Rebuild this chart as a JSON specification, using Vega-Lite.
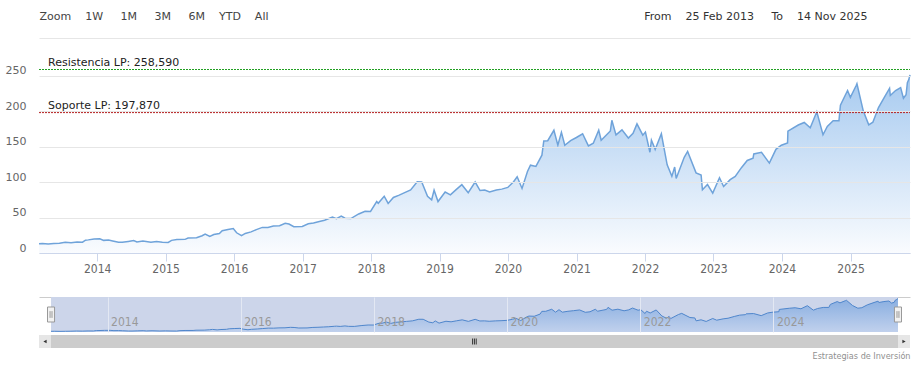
{
  "$schema": "https://vega.github.io/schema/vega-lite/v6.json",
  "background": "white",
  "padding": {"left": 5, "right": 8, "top": 10, "bottom": 2},
  "config": {
    "view": {"stroke": null},
    "font": "DejaVu Sans"
  },
  "datasets": {
    "valores": [
      {"fecha": "2013-02-25", "valor": 13.0}, {"fecha": "2013-03-15", "valor": 13.4}, {"fecha": "2013-04-15", "valor": 12.6},
      {"fecha": "2013-05-15", "valor": 13.3}, {"fecha": "2013-06-14", "valor": 13.8}, {"fecha": "2013-07-15", "valor": 15.2},
      {"fecha": "2013-08-15", "valor": 14.4}, {"fecha": "2013-09-16", "valor": 15.6}, {"fecha": "2013-10-15", "valor": 15.3},
      {"fecha": "2013-10-31", "valor": 18.1}, {"fecha": "2013-11-15", "valor": 18.5}, {"fecha": "2013-12-16", "valor": 19.8},
      {"fecha": "2014-01-15", "valor": 20.0}, {"fecha": "2014-02-05", "valor": 17.8}, {"fecha": "2014-03-03", "valor": 18.3},
      {"fecha": "2014-03-25", "valor": 17.0}, {"fecha": "2014-04-25", "valor": 15.1}, {"fecha": "2014-05-15", "valor": 15.0},
      {"fecha": "2014-06-16", "valor": 16.3}, {"fecha": "2014-07-15", "valor": 17.6}, {"fecha": "2014-08-01", "valor": 15.6},
      {"fecha": "2014-09-02", "valor": 17.0}, {"fecha": "2014-10-15", "valor": 15.2}, {"fecha": "2014-11-14", "valor": 16.2},
      {"fecha": "2014-12-15", "valor": 15.3}, {"fecha": "2015-01-15", "valor": 14.9}, {"fecha": "2015-02-02", "valor": 17.8},
      {"fecha": "2015-03-02", "valor": 19.0}, {"fecha": "2015-04-15", "valor": 19.2}, {"fecha": "2015-05-01", "valor": 21.0},
      {"fecha": "2015-06-15", "valor": 21.6}, {"fecha": "2015-07-15", "valor": 24.3}, {"fecha": "2015-07-31", "valor": 26.8},
      {"fecha": "2015-08-25", "valor": 23.4}, {"fecha": "2015-09-15", "valor": 26.0}, {"fecha": "2015-10-15", "valor": 27.5},
      {"fecha": "2015-10-30", "valor": 31.3}, {"fecha": "2015-11-30", "valor": 33.2}, {"fecha": "2015-12-28", "valor": 34.5},
      {"fecha": "2016-01-15", "valor": 28.5}, {"fecha": "2016-02-10", "valor": 24.4}, {"fecha": "2016-03-01", "valor": 27.6},
      {"fecha": "2016-04-01", "valor": 29.8}, {"fecha": "2016-04-29", "valor": 32.9}, {"fecha": "2016-05-31", "valor": 36.1},
      {"fecha": "2016-06-30", "valor": 35.8}, {"fecha": "2016-07-29", "valor": 37.9}, {"fecha": "2016-08-31", "valor": 38.4},
      {"fecha": "2016-09-30", "valor": 41.9}, {"fecha": "2016-10-20", "valor": 40.8}, {"fecha": "2016-11-15", "valor": 37.0},
      {"fecha": "2016-12-30", "valor": 37.5}, {"fecha": "2017-01-31", "valor": 41.2}, {"fecha": "2017-02-28", "valor": 42.3},
      {"fecha": "2017-03-31", "valor": 44.3}, {"fecha": "2017-04-28", "valor": 46.2}, {"fecha": "2017-05-31", "valor": 49.7},
      {"fecha": "2017-06-09", "valor": 50.5}, {"fecha": "2017-06-30", "valor": 48.4}, {"fecha": "2017-07-26", "valor": 52.1},
      {"fecha": "2017-08-15", "valor": 49.0}, {"fecha": "2017-09-15", "valor": 48.5}, {"fecha": "2017-10-27", "valor": 55.0},
      {"fecha": "2017-11-30", "valor": 58.8}, {"fecha": "2017-12-29", "valor": 58.5}, {"fecha": "2018-01-31", "valor": 72.5},
      {"fecha": "2018-02-08", "valor": 70.0}, {"fecha": "2018-03-12", "valor": 80.0}, {"fecha": "2018-04-02", "valor": 69.8},
      {"fecha": "2018-04-30", "valor": 78.3}, {"fecha": "2018-05-31", "valor": 81.5}, {"fecha": "2018-06-29", "valor": 85.0},
      {"fecha": "2018-07-31", "valor": 88.9}, {"fecha": "2018-09-04", "valor": 100.5}, {"fecha": "2018-09-28", "valor": 100.2},
      {"fecha": "2018-10-29", "valor": 79.9}, {"fecha": "2018-11-20", "valor": 75.0}, {"fecha": "2018-12-03", "valor": 88.6},
      {"fecha": "2018-12-24", "valor": 72.5}, {"fecha": "2019-01-31", "valor": 86.0}, {"fecha": "2019-02-28", "valor": 82.0},
      {"fecha": "2019-03-29", "valor": 89.0}, {"fecha": "2019-04-30", "valor": 96.3}, {"fecha": "2019-06-03", "valor": 85.0},
      {"fecha": "2019-07-10", "valor": 100.0}, {"fecha": "2019-08-05", "valor": 88.0}, {"fecha": "2019-08-30", "valor": 88.8},
      {"fecha": "2019-09-25", "valor": 86.0}, {"fecha": "2019-10-31", "valor": 88.8}, {"fecha": "2019-11-29", "valor": 90.0},
      {"fecha": "2019-12-31", "valor": 92.4}, {"fecha": "2020-01-31", "valor": 100.4}, {"fecha": "2020-02-19", "valor": 107.5},
      {"fecha": "2020-03-16", "valor": 91.0}, {"fecha": "2020-04-14", "valor": 114.8}, {"fecha": "2020-04-30", "valor": 123.7},
      {"fecha": "2020-05-29", "valor": 122.1}, {"fecha": "2020-06-30", "valor": 137.9}, {"fecha": "2020-07-10", "valor": 158.0},
      {"fecha": "2020-07-31", "valor": 158.2}, {"fecha": "2020-09-02", "valor": 173.0}, {"fecha": "2020-09-23", "valor": 152.0},
      {"fecha": "2020-10-12", "valor": 170.0}, {"fecha": "2020-10-30", "valor": 151.8}, {"fecha": "2020-11-30", "valor": 158.4},
      {"fecha": "2020-12-31", "valor": 162.8}, {"fecha": "2021-02-02", "valor": 168.0}, {"fecha": "2021-03-05", "valor": 151.0},
      {"fecha": "2021-03-31", "valor": 154.7}, {"fecha": "2021-04-29", "valor": 173.0}, {"fecha": "2021-05-12", "valor": 159.0},
      {"fecha": "2021-06-30", "valor": 172.0}, {"fecha": "2021-07-08", "valor": 187.0}, {"fecha": "2021-07-30", "valor": 166.4},
      {"fecha": "2021-08-31", "valor": 173.5}, {"fecha": "2021-10-04", "valor": 162.0}, {"fecha": "2021-10-29", "valor": 168.6},
      {"fecha": "2021-11-19", "valor": 182.0}, {"fecha": "2021-12-20", "valor": 166.0}, {"fecha": "2022-01-03", "valor": 170.4},
      {"fecha": "2022-01-27", "valor": 142.0}, {"fecha": "2022-02-04", "valor": 159.0}, {"fecha": "2022-02-24", "valor": 146.0},
      {"fecha": "2022-03-29", "valor": 168.0}, {"fecha": "2022-04-29", "valor": 124.3}, {"fecha": "2022-05-24", "valor": 108.0},
      {"fecha": "2022-06-08", "valor": 121.2}, {"fecha": "2022-06-16", "valor": 105.0}, {"fecha": "2022-07-29", "valor": 134.9},
      {"fecha": "2022-08-16", "valor": 143.2}, {"fecha": "2022-09-30", "valor": 113.0}, {"fecha": "2022-10-27", "valor": 110.0},
      {"fecha": "2022-11-03", "valor": 89.0}, {"fecha": "2022-11-30", "valor": 96.5}, {"fecha": "2022-12-28", "valor": 84.5},
      {"fecha": "2023-02-02", "valor": 106.0}, {"fecha": "2023-02-24", "valor": 93.7}, {"fecha": "2023-03-31", "valor": 103.3},
      {"fecha": "2023-04-27", "valor": 108.0}, {"fecha": "2023-05-31", "valor": 120.6}, {"fecha": "2023-06-30", "valor": 130.4},
      {"fecha": "2023-07-31", "valor": 133.7}, {"fecha": "2023-08-04", "valor": 139.6}, {"fecha": "2023-09-14", "valor": 142.0},
      {"fecha": "2023-10-26", "valor": 126.7}, {"fecha": "2023-11-30", "valor": 146.1}, {"fecha": "2023-12-29", "valor": 151.9},
      {"fecha": "2024-01-31", "valor": 155.2}, {"fecha": "2024-02-02", "valor": 171.8}, {"fecha": "2024-03-28", "valor": 180.4},
      {"fecha": "2024-04-29", "valor": 184.0}, {"fecha": "2024-05-31", "valor": 176.4}, {"fecha": "2024-07-05", "valor": 199.0},
      {"fecha": "2024-08-07", "valor": 166.6}, {"fecha": "2024-08-30", "valor": 178.5}, {"fecha": "2024-09-30", "valor": 186.3},
      {"fecha": "2024-10-31", "valor": 186.4}, {"fecha": "2024-11-08", "valor": 208.2}, {"fecha": "2024-12-16", "valor": 229.0},
      {"fecha": "2024-12-31", "valor": 219.4}, {"fecha": "2025-01-31", "valor": 236.0}, {"fecha": "2025-02-04", "valor": 238.5},
      {"fecha": "2025-03-10", "valor": 200.0}, {"fecha": "2025-04-08", "valor": 180.7}, {"fecha": "2025-04-30", "valor": 184.4},
      {"fecha": "2025-05-30", "valor": 205.0}, {"fecha": "2025-06-30", "valor": 219.4}, {"fecha": "2025-07-28", "valor": 232.0},
      {"fecha": "2025-08-01", "valor": 222.0}, {"fecha": "2025-08-29", "valor": 229.0}, {"fecha": "2025-09-25", "valor": 233.0},
      {"fecha": "2025-10-10", "valor": 218.0}, {"fecha": "2025-10-24", "valor": 223.0}, {"fecha": "2025-10-31", "valor": 240.0},
      {"fecha": "2025-11-07", "valor": 244.0}, {"fecha": "2025-11-14", "valor": 251.0}
    ],
    "niveles": [
      {"nivel": "Resistencia LP", "valor": 258.59, "etiqueta": "Resistencia LP: 258,590"},
      {"nivel": "Soporte LP", "valor": 197.87, "etiqueta": "Soporte LP: 197,870"}
    ]
  },
  "spacing": 22,
  "vconcat": [
    {
      "width": 871,
      "height": 193,
      "layer": [
        {
          "data": {"name": "valores"},
          "mark": {
            "type": "area",
            "color": {
              "gradient": "linear", "x1": 0, "y1": 0, "x2": 0, "y2": 1,
              "stops": [{"offset": 0, "color": "#80b3e9"}, {"offset": 1, "color": "#f7fafe"}]
            },
            "line": {"color": "#6fa3da", "strokeWidth": 1.5}
          },
          "encoding": {
            "x": {
              "field": "fecha", "type": "temporal",
              "scale": {"domain": [{"year": 2013, "month": 2, "date": 25}, {"year": 2025, "month": 11, "date": 14}], "nice": false},
              "axis": {
                "orient": "bottom", "format": "%Y", "tickCount": {"interval": "year", "step": 1},
                "grid": false, "domainColor": "#ccd6eb", "tickColor": "#ccd6eb", "tickSize": 8,
                "labelPadding": 2, "labelColor": "#666666", "labelFont": "Liberation Sans Narrow, DejaVu Sans Condensed, DejaVu Sans",
                "labelFontSize": 12, "labelFlush": false, "title": null, "zindex": 1
              }
            },
            "y": {
              "field": "valor", "type": "quantitative",
              "scale": {"domain": [0, 272], "nice": false},
              "axis": {
                "values": [0, 50, 100, 150, 200, 250], "grid": true, "gridColor": "#e6e6e6",
                "domain": false, "ticks": false, "labelPadding": 13, "labelOffset": -5, "labelOverlap": false,
                "labelColor": "#666666", "labelFont": "Tahoma, DejaVu Sans", "labelFontSize": 11,
                "title": null, "zindex": 1
              }
            }
          }
        },
        {
          "data": {"name": "niveles"},
          "mark": {"type": "rule", "strokeDash": [2, 1], "strokeWidth": 1},
          "encoding": {
            "x": {
              "datum": {"year": 2013, "month": 2, "date": 25}, "type": "temporal",
              "axis": {
                "orient": "top", "offset": 22, "labels": false, "ticks": false, "grid": false,
                "domainColor": "#e6e6e6",
                "title": "Zoom\u00a0\u00a0\u00a0\u00a01W\u00a0\u00a0\u00a0\u00a0\u00a01M\u00a0\u00a0\u00a0\u00a0\u00a03M\u00a0\u00a0\u00a0\u00a0\u00a06M\u00a0\u00a0\u00a0\u00a0YTD\u00a0\u00a0\u00a0\u00a0All",
                "titleFont": "Tahoma, DejaVu Sans", "titleFontSize": 11, "titleFontWeight": "normal",
                "titleColor": "#444444", "titleAnchor": "start", "titlePadding": 17
              }
            },
            "x2": {"datum": {"year": 2025, "month": 11, "date": 14}},
            "y": {"field": "valor", "type": "quantitative", "axis": null},
            "color": {
              "field": "nivel", "type": "nominal",
              "scale": {"domain": ["Resistencia LP", "Soporte LP"], "range": ["#22a022", "#b52020"]},
              "legend": null
            }
          }
        },
        {
          "data": {"name": "niveles"},
          "mark": {"type": "text", "align": "left", "baseline": "alphabetic", "dx": 9, "dy": -4,
                   "font": "Tahoma, DejaVu Sans", "fontSize": 11, "color": "#222222"},
          "encoding": {
            "x": {
              "datum": {"year": 2013, "month": 2, "date": 25}, "type": "temporal",
              "axis": {
                "orient": "top", "offset": 22, "labels": false, "ticks": false, "grid": false, "domain": false,
                "title": "From\u00a0\u00a0\u00a0\u00a025 Feb 2013\u00a0\u00a0\u00a0\u00a0\u00a0To\u00a0\u00a0\u00a0\u00a014 Nov 2025",
                "titleFont": "Tahoma, DejaVu Sans", "titleFontSize": 11, "titleFontWeight": "normal",
                "titleColor": "#333333", "titleX": 828, "titleAlign": "right", "titlePadding": 17
              }
            },
            "y": {"field": "valor", "type": "quantitative", "axis": null},
            "text": {"field": "etiqueta"}
          }
        }
      ],
      "resolve": {"axis": {"x": "independent", "y": "independent"}}
    },
    {
      "spacing": 1,
      "vconcat": [
        {
          "width": 871,
          "height": 35,
          "layer": [
            {
              "data": {"values": [{"zona": "navegador"}]},
              "mark": {"type": "rect", "color": "#ccd5ea"},
              "encoding": {
                "x": {
                  "datum": {"year": 2013, "month": 2, "date": 25}, "type": "temporal",
                  "scale": {"domain": [{"year": 2012, "month": 12, "date": 21}, {"year": 2026, "month": 1, "date": 19}], "nice": false},
                  "axis": {"orient": "top", "labels": false, "ticks": false, "grid": false, "domainColor": "#cccccc", "title": null}
                },
                "x2": {"datum": {"year": 2025, "month": 11, "date": 14}},
                "y": {"datum": 262, "type": "quantitative", "scale": {"domain": [8, 262], "nice": false, "zero": false}, "axis": null},
                "y2": {"datum": 8}
              }
            },
            {
              "data": {"name": "valores"},
              "mark": {
                "type": "area",
                "color": {
                  "gradient": "linear", "x1": 0, "y1": 0, "x2": 0, "y2": 1,
                  "stops": [{"offset": 0, "color": "#6b9ddc"}, {"offset": 1, "color": "#bccfee"}]
                },
                "line": {"color": "#4f86cc", "strokeWidth": 1}
              },
              "encoding": {
                "x": {
                  "field": "fecha", "type": "temporal",
                  "axis": {
                    "orient": "bottom", "format": "%Y",
                    "values": [{"year": 2014, "month": 1, "date": 1}, {"year": 2016, "month": 1, "date": 1}, {"year": 2018, "month": 1, "date": 1},
                               {"year": 2020, "month": 1, "date": 1}, {"year": 2022, "month": 1, "date": 1}, {"year": 2024, "month": 1, "date": 1}],
                    "grid": true, "gridColor": "#e3e8f3", "domain": false, "ticks": false, "tickSize": 0,
                    "labelAlign": "left", "labelBaseline": "alphabetic", "labelPadding": -7, "labelOffset": 3,
                    "labelColor": "#999999", "labelFont": "Liberation Sans Narrow, DejaVu Sans Condensed, DejaVu Sans",
                    "labelFontSize": 12, "labelFlush": false, "labelOverlap": false, "title": null, "zindex": 1
                  }
                },
                "y": {"field": "valor", "type": "quantitative"},
                "y2": {"datum": 8}
              }
            },
            {
              "data": {"values": [{"asa": "inicio", "fecha": "2013-02-25"}, {"asa": "fin", "fecha": "2025-11-14"}]},
              "mark": {"type": "point", "shape": "M-0.47,-1H0.47V1H-0.47Z", "size": 225, "filled": true,
                       "fill": "#f2f2f2", "stroke": "#999999", "strokeWidth": 1, "opacity": 1},
              "encoding": {
                "x": {"field": "fecha", "type": "temporal", "axis": null},
                "y": {"datum": 135, "type": "quantitative"}
              }
            },
            {
              "data": {"values": [{"asa": "inicio", "fecha": "2013-02-25"}, {"asa": "fin", "fecha": "2025-11-14"}]},
              "mark": {"type": "point", "shape": "M-0.13,-0.45V0.45M0.13,-0.45V0.45", "size": 225, "filled": false,
                       "stroke": "#999999", "strokeWidth": 1, "opacity": 1},
              "encoding": {
                "x": {"field": "fecha", "type": "temporal", "axis": null},
                "y": {"datum": 135, "type": "quantitative"}
              }
            }
          ],
          "resolve": {"axis": {"x": "independent"}}
        },
        {
          "width": 871,
          "height": 13,
          "data": {"values": [{"elemento": "barra"}]},
          "layer": [
            {
              "mark": {"type": "rect", "color": "#e6e6e6"},
              "encoding": {
                "x": {
                  "datum": {"year": 2013, "month": 2, "date": 25}, "type": "temporal",
                  "scale": {"domain": [{"year": 2013, "month": 2, "date": 25}, {"year": 2025, "month": 11, "date": 14}], "nice": false},
                  "axis": {
                    "orient": "bottom", "labels": false, "ticks": false, "grid": false, "domain": false,
                    "title": "Estrategias de Inversión", "titleAnchor": "end", "titleFontSize": 9,
                    "titleFontWeight": "normal", "titleColor": "#909090", "titlePadding": 3,
                    "titleFont": "Liberation Sans Narrow, DejaVu Sans Condensed, DejaVu Sans"
                  }
                },
                "x2": {"datum": {"year": 2025, "month": 11, "date": 14}}
              }
            },
            {
              "mark": {"type": "rect", "color": "#cccccc", "xOffset": 12, "x2Offset": -12},
              "encoding": {
                "x": {"datum": {"year": 2013, "month": 2, "date": 25}, "type": "temporal"},
                "x2": {"datum": {"year": 2025, "month": 11, "date": 14}}
              }
            },
            {
              "mark": {"type": "point", "shape": "triangle-left", "size": 14, "filled": true, "color": "#333333", "xOffset": 6, "opacity": 1},
              "encoding": {"x": {"datum": {"year": 2013, "month": 2, "date": 25}, "type": "temporal"}}
            },
            {
              "mark": {"type": "point", "shape": "triangle-right", "size": 14, "filled": true, "color": "#333333", "xOffset": -6, "opacity": 1},
              "encoding": {"x": {"datum": {"year": 2025, "month": 11, "date": 14}, "type": "temporal"}}
            },
            {
              "mark": {"type": "point", "shape": "M-0.6,-1V1M0,-1V1M0.6,-1V1", "size": 36, "filled": false, "stroke": "#333333", "strokeWidth": 1, "opacity": 1},
              "encoding": {"x": {"datum": {"year": 2019, "month": 7, "date": 6}, "type": "temporal"}}
            }
          ]
        }
      ]
    }
  ]
}
